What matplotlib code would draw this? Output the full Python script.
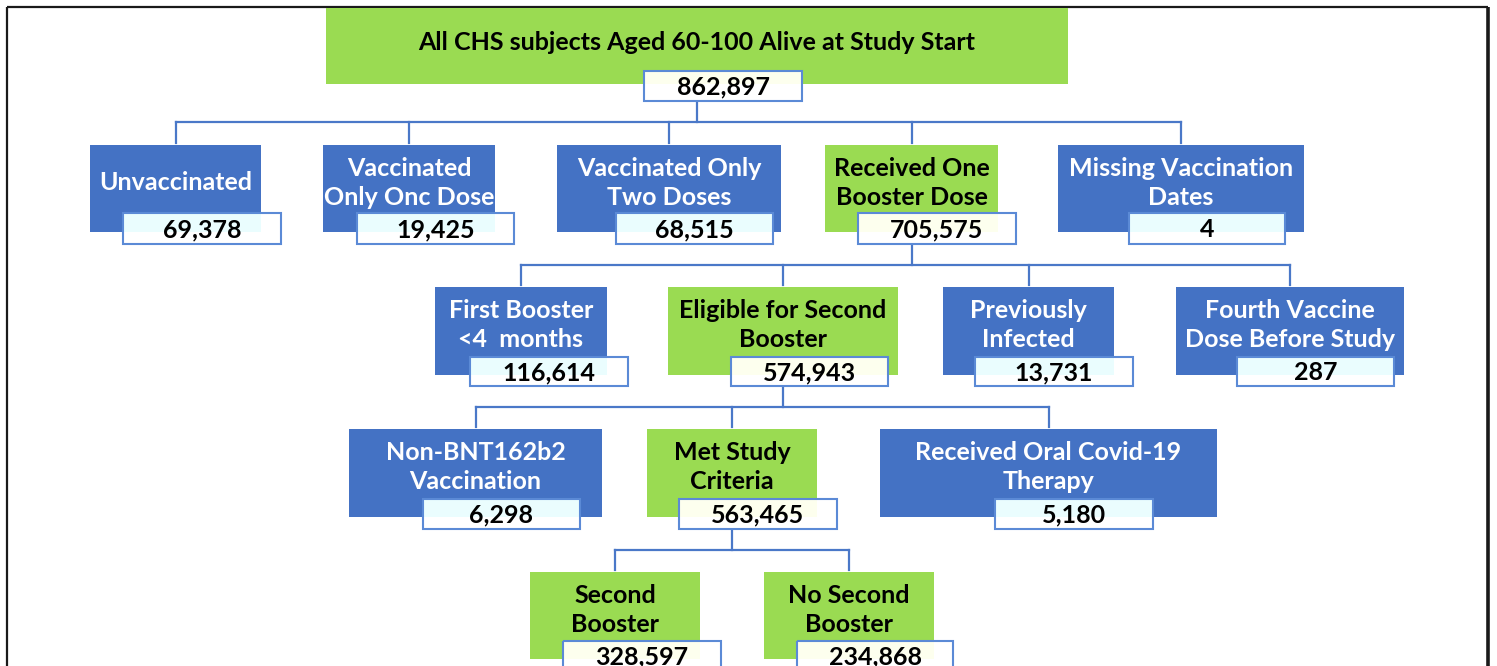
import matplotlib
matplotlib.use("Agg")
import matplotlib.pyplot as plt
from matplotlib.patches import Rectangle

# ---------------- data ----------------
node_labels = [
    "All CHS subjects Aged 60-100 Alive at Study Start",
    "Unvaccinated",
    "Vaccinated\nOnly Onc Dose",
    "Vaccinated Only\nTwo Doses",
    "Received One\nBooster Dose",
    "Missing Vaccination\nDates",
    "First Booster\n<4  months",
    "Eligible for Second\nBooster",
    "Previously\nInfected",
    "Fourth Vaccine\nDose Before Study",
    "Non-BNT162b2\nVaccination",
    "Met Study\nCriteria",
    "Received Oral Covid-19\nTherapy",
    "Second\nBooster",
    "No Second\nBooster",
]
node_counts = [862897, 69378, 19425, 68515, 705575, 4,
               116614, 574943, 13731, 287,
               6298, 563465, 5180,
               328597, 234868]
node_included = [True, False, False, False, True, False,
                 False, True, False, False,
                 False, True, False,
                 True, True]
node_parent = [None, 0, 0, 0, 0, 0, 4, 4, 4, 4, 7, 7, 7, 11, 11]

# ---------------- layout (pixel space) ----------------
node_level = [0, 1, 1, 1, 1, 1, 2, 2, 2, 2, 3, 3, 3, 4, 4]
box_x = [(326, 1068), (90, 261), (323, 495), (557, 781), (825, 998), (1058, 1304),
         (435, 607), (668, 898), (943, 1114), (1176, 1404),
         (349, 602), (647, 817), (880, 1217),
         (530, 700), (764, 934)]
num_x = [(644, 802), (123, 281), (357, 514), (616, 773), (858, 1016), (1129, 1285),
         (470, 628), (731, 888), (975, 1133), (1237, 1394),
         (423, 580), (679, 837), (995, 1153),
         (563, 721), (797, 953)]
# box top, box bottom, number-box top, number-box bottom
level_y = {0: (8, 84, 71, 101), 1: (145, 232, 213, 244), 2: (287, 375, 357, 386),
           3: (429, 517, 499, 529), 4: (572, 659, 641, 671)}

GREEN = "#9ADB52"
BLUE = "#4472C4"
LINE = "#4A78C8"
NUM_EDGE = "#5B8AD6"
TINT_BLUE = "#EAFDFE"
TINT_GREEN = "#FDFFEE"
FONT = ["Lato", "DejaVu Sans"]

W, H = 1497, 666
fig = plt.figure(figsize=(W / 100, H / 100), dpi=100)
ax = fig.add_axes([0, 0, 1, 1])
ax.set_xlim(0, W)
ax.set_ylim(H, 0)
ax.axis("off")

# outer frame
ax.plot([7, 7], [H + 5, 7], color="#1a1a1a", lw=1.6, zorder=1, solid_capstyle="butt")
ax.plot([7, 1488], [7, 7], color="#1a1a1a", lw=1.6, zorder=1, solid_capstyle="butt")
ax.plot([1488, 1488], [7, H + 5], color="#1a1a1a", lw=2.6, zorder=1, solid_capstyle="butt")

# connectors
children = {}
for i, p in enumerate(node_parent):
    if p is not None:
        children.setdefault(p, []).append(i)
for p, kids in children.items():
    lvl = node_level[p]
    pb = level_y[lvl][3]
    bus = pb + 21
    px = sum(box_x[p]) / 2
    cxs = [sum(box_x[k]) / 2 for k in kids]
    ax.plot([px, px], [pb, bus], color=LINE, lw=1.6, zorder=2)
    ax.plot([min(cxs + [px]), max(cxs + [px])], [bus, bus], color=LINE, lw=1.6, zorder=2,
            solid_capstyle="projecting")
    for k, cx in zip(kids, cxs):
        top = level_y[node_level[k]][0]
        ax.plot([cx, cx], [bus, top - 2], color=LINE, lw=1.6, zorder=2)

# nodes
for i, (lab, cnt, inc) in enumerate(zip(node_labels, node_counts, node_included)):
    lvl = node_level[i]
    bt, bb, nt, nb = level_y[lvl]
    x0, x1 = box_x[i]
    n0, n1 = num_x[i]
    fc = GREEN if inc else BLUE
    tc = "black" if inc else "white"
    ax.add_patch(Rectangle((x0, bt), x1 - x0, bb - bt, facecolor=fc, edgecolor="none", zorder=3))
    # number box
    ax.add_patch(Rectangle((n0, nt), n1 - n0, nb - nt, facecolor="white",
                           edgecolor="none", zorder=4))
    ov1 = min(n1, x1)
    ax.add_patch(Rectangle((n0, nt), ov1 - n0, bb - nt,
                           facecolor=TINT_GREEN if inc else TINT_BLUE,
                           edgecolor="none", zorder=4.5))
    ax.add_patch(Rectangle((n0, nt), n1 - n0, nb - nt, facecolor="none",
                           edgecolor=NUM_EDGE, lw=1.5, zorder=5))
    # texts
    ty = bt + 34 if lvl == 0 else bt + 38
    ax.text((x0 + x1) / 2, ty, lab, ha="center", va="center", color=tc,
            fontsize=18, fontweight="bold", family=FONT, linespacing=1.3,
            multialignment="center", zorder=6)
    ax.text((n0 + n1) / 2, (nt + nb) / 2 + 1, f"{cnt:,}", ha="center", va="center",
            color="black", fontsize=18, fontweight="bold", family=FONT, zorder=6)

fig.savefig("out.png", dpi=100, facecolor="white")
